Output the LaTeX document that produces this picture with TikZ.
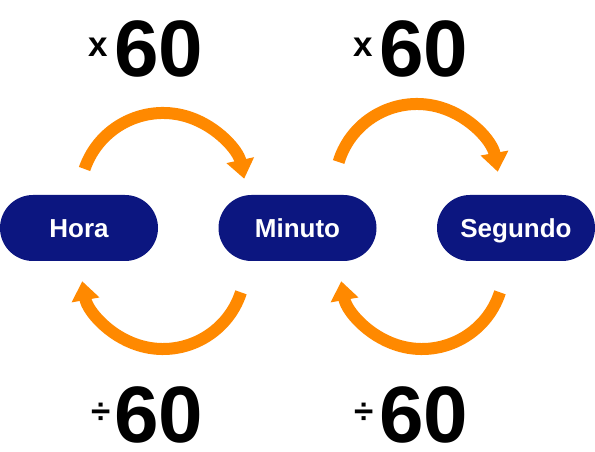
\documentclass[tikz,border=0pt]{standalone}
\usepackage{fontspec}
\setmainfont{Liberation Sans}
\usetikzlibrary{calc}
\usetikzlibrary{arrows.meta}
\definecolor{pillblue}{RGB}{12,22,128}
\definecolor{arcorange}{RGB}{255,137,0}
\tikzset{
  unit/.style={fill=pillblue, text=white, rounded corners=33pt, minimum width=158pt, minimum height=66pt, inner sep=0pt, text height=19pt, text depth=0pt, font=\bfseries\fontsize{26}{26}\selectfont},
  turn/.style={draw=arcorange, line width=12pt, -{Triangle[width=27pt,length=19pt]}},
  factor/.style={inner sep=0pt, text height=57pt, text depth=0pt, font=\bfseries\fontsize{80}{80}\selectfont},
  opsign/.style={inner sep=0pt, font=\bfseries\fontsize{35}{35}\selectfont}
}

\begin{document}
\begin{tikzpicture}[x=1pt,y=1pt]
\useasboundingbox[fill=white] (0,0) rectangle (595,452);

\coordinate (P) at (163,256);
\coordinate (Q) at (417,266);
\coordinate (R) at (163,185);
\coordinate (T) at (422,185);

\node[unit] (H) at (79,224) {Hora};
\node[unit] (M) at (297.5,224) {Minuto};
\node[unit] (S) at (516,224) {Segundo};

\draw[turn] ($(P)+(161:83)$) arc[start angle=161, end angle=12, radius=83];
\draw[turn] ($(Q)+(163:82)$) arc[start angle=163, end angle=10, radius=82];
\draw[turn] ($(R)+(-18:82)$) arc[start angle=-18, end angle=-170, radius=82];
\draw[turn] ($(T)+(-18:82)$) arc[start angle=-18, end angle=-170, radius=82];

\node[factor] (A) at (159,404) {60};
\node[factor] (B) at (424,404) {60};
\node[factor] (C) at (159,38) {60};
\node[factor] (D) at (424,38) {60};
\node[opsign] (a) at (98,405) {x};
\node[opsign] (b) at (363,405) {x};
\node[opsign] (c) at (101.5,39) {÷};
\node[opsign] (d) at (364.5,39) {÷};

\end{tikzpicture}
\end{document}
